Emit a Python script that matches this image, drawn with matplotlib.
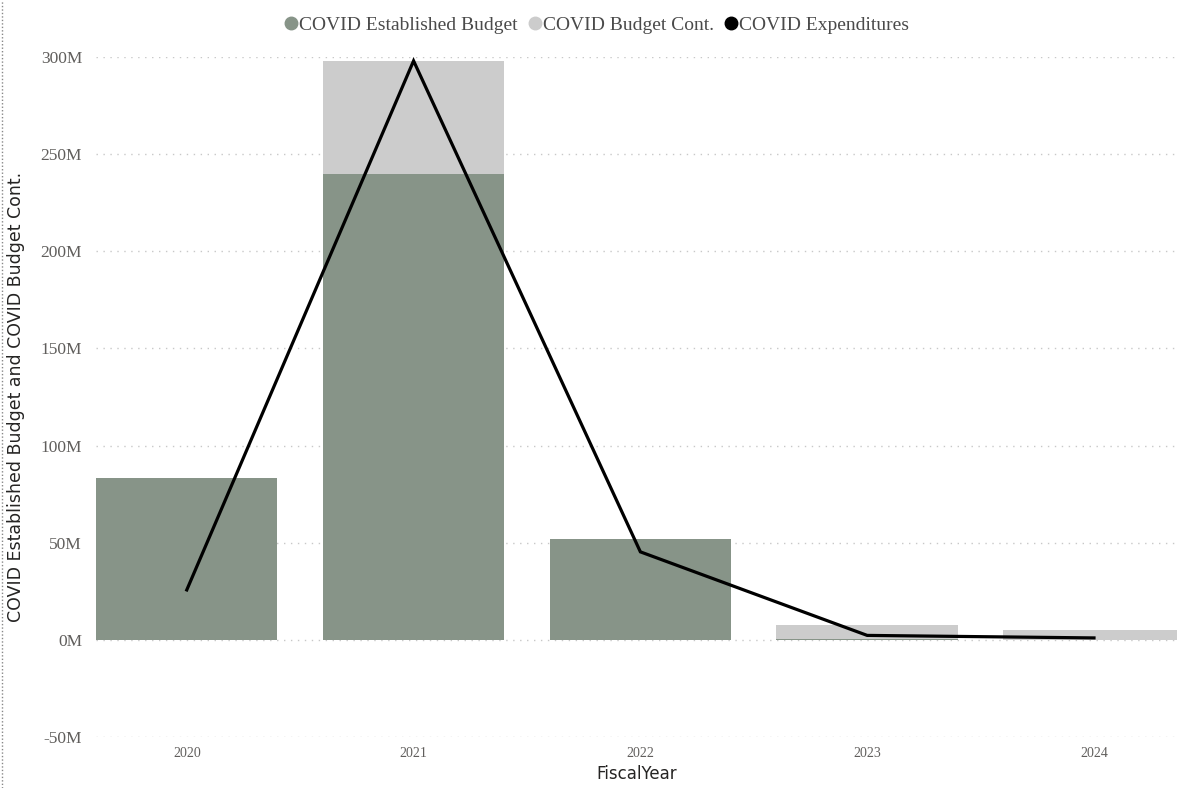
import numpy as np
import matplotlib.pyplot as plt
from matplotlib.lines import Line2D
from matplotlib.ticker import FuncFormatter

# Budget figures in millions
years = ['2020', '2021', '2022', '2023', '2024']
established = [83.5, 240.0, 52.0, 0.4, 0.0]
budget_cont = [0.0, 58.0, 0.0, 7.4, 5.3]
expenditures = [25.7, 298.0, 45.3, 2.3, 1.0]

green = '#879488'
grey = '#cccccc'
tick_color = '#605e5c'
serif = 'Liberation Serif'

fig = plt.figure(figsize=(11.77, 7.88), dpi=100)
ax = fig.add_axes([0.0816, 0.0647, 0.9184, 0.8630])

x = np.arange(len(years))
ax.bar(x, established, width=0.8, color=green, zorder=2)
ax.bar(x, budget_cont, width=0.8, bottom=established, color=grey, zorder=2)
ax.plot(x, expenditures, color='black', lw=2.3, zorder=3, solid_joinstyle='miter')

ax.set_xlim(-0.4, 4.366)
ax.set_ylim(-50, 300)
ax.set_yticks(np.arange(-50, 301, 50))
ax.yaxis.set_major_formatter(FuncFormatter(lambda v, _: f'{v:.0f}M'))
ax.set_xticks(x)
ax.set_xticklabels(years)

ax.grid(axis='y', color='#c8c8c8', linestyle=(0, (1, 4)), lw=1.0, zorder=0)
for s in ax.spines.values():
    s.set_visible(False)
ax.tick_params(length=0)
ax.tick_params(axis='y', labelsize=12.5, labelcolor=tick_color, pad=10)
ax.tick_params(axis='x', labelsize=10, labelcolor=tick_color, pad=7)
for lbl in ax.get_yticklabels() + ax.get_xticklabels():
    lbl.set_family(serif)

ax.set_xlabel('FiscalYear', fontsize=12, color='#252423', labelpad=4)
ax.set_ylabel('COVID Established Budget and COVID Budget Cont.', fontsize=12.5,
              color='#252423', labelpad=2)
ax.yaxis.set_label_coords(-0.066, 0.5)

handles = [
    Line2D([], [], marker='o', ls='', color=green, markersize=9),
    Line2D([], [], marker='o', ls='', color=grey, markersize=9),
    Line2D([], [], marker='o', ls='', color='black', markersize=9),
]
fig.legend(handles, ['COVID Established Budget', 'COVID Budget Cont.', 'COVID Expenditures'],
           loc='center', bbox_to_anchor=(0.505, 0.968), ncol=3, frameon=False,
           handletextpad=-0.2, columnspacing=0.3, handlelength=1.2,
           prop={'family': serif, 'size': 14}, labelcolor='#4a4a4a')

# dotted frame edge at the left
fig.add_artist(Line2D([0.002, 0.002], [0, 1], transform=fig.transFigure,
                      color='#888888', lw=1, ls=(0, (1, 1.5))))

fig.savefig('out.png', dpi=100)
